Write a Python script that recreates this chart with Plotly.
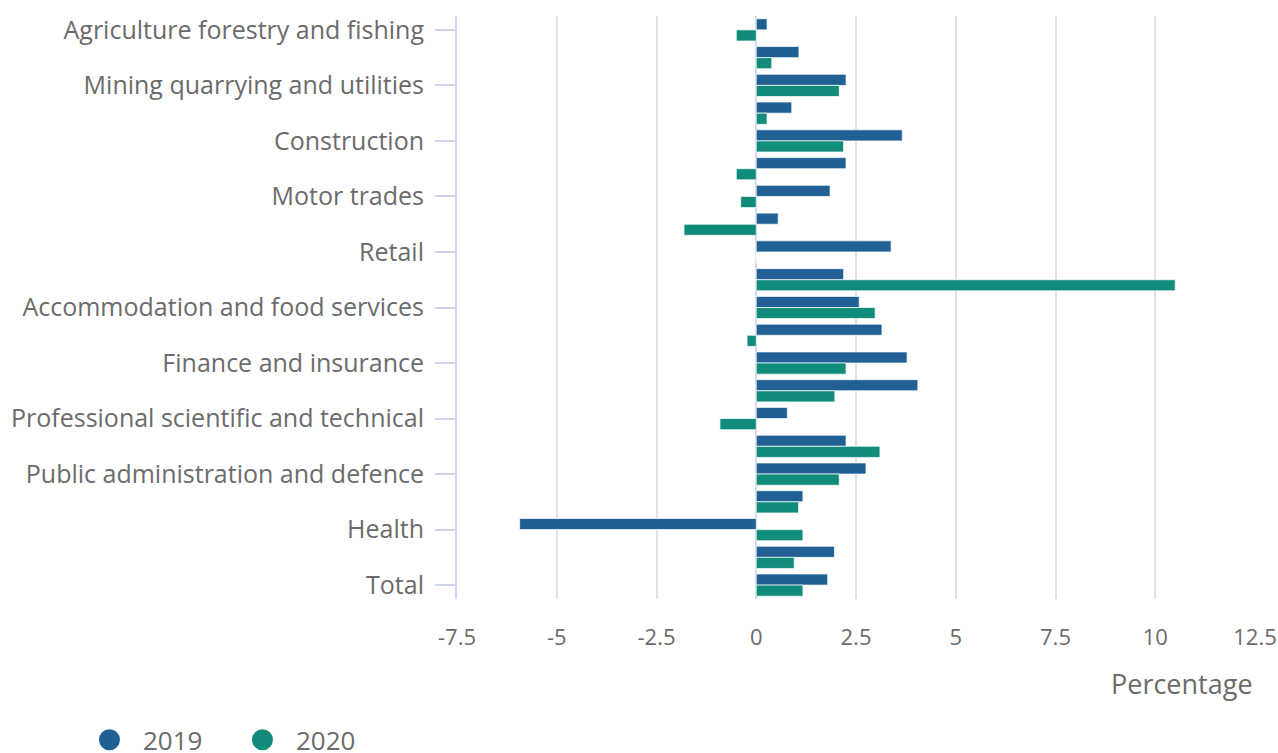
import plotly.graph_objects as go

categories = [
    "Agriculture forestry and fishing",
    "Production",
    "Mining quarrying and utilities",
    "Manufacturing",
    "Construction",
    "Wholesale",
    "Motor trades",
    "Wholesale and retail",
    "Retail",
    "Transport and storage",
    "Accommodation and food services",
    "Information and communication",
    "Finance and insurance",
    "Real estate",
    "Professional scientific and technical",
    "Administrative and support services",
    "Public administration and defence",
    "Education",
    "Health",
    "Arts entertainment and recreation",
    "Total",
]

values_2019 = [0.27, 1.07, 2.25, 0.89, 3.66, 2.25, 1.85, 0.55, 3.38, 2.19, 2.58,
               3.15, 3.78, 4.05, 0.78, 2.25, 2.75, 1.17, -5.93, 1.96, 1.79]
values_2020 = [-0.50, 0.39, 2.08, 0.27, 2.19, -0.50, -0.39, -1.81, 0.0, 10.50, 2.98,
               -0.23, 2.25, 1.97, -0.91, 3.10, 2.08, 1.06, 1.17, 0.95, 1.17]

series_names = ["2019", "2020"]
colors = ["#206095", "#118c7b"]
x_ticks = [-7.5, -5, -2.5, 0, 2.5, 5, 7.5, 10, 12.5]
x_tick_text = ["-7.5", "-5", "-2.5", "0", "2.5", "5", "7.5", "10", "12.5"]

FONT = "Open Sans"
TXT = "#6b6b6b"
NBSP = "\u00a0"

fig = go.Figure()
for name, vals, col in zip(series_names, [values_2019, values_2020], colors):
    fig.add_trace(go.Bar(
        y=categories, x=vals, name=name, orientation="h",
        marker=dict(color=col, line=dict(color="rgba(255,255,255,0.7)", width=1)),
        showlegend=False,
    ))
    fig.add_trace(go.Scatter(
        x=[None], y=[None], mode="markers", name=NBSP * 2 + name,
        marker=dict(color=col, size=16, symbol="circle", line=dict(color=col, width=5)),
        showlegend=True,
    ))

fig.update_layout(
    width=1278, height=753,
    margin=dict(l=457, r=23, t=16, b=154),
    paper_bgcolor="white", plot_bgcolor="white",
    barmode="group", bargap=0.2, bargroupgap=0,
    font=dict(family=FONT, color=TXT, size=22),
    showlegend=True,
    legend=dict(
        orientation="h", xref="container", yref="container",
        x=0.07, xanchor="left", y=0.0175, yanchor="middle",
        font=dict(family=FONT, size=26, color=TXT),
        entrywidth=108, entrywidthmode="pixels",
        bgcolor="rgba(0,0,0,0)",
    ),
)

fig.update_xaxes(
    range=[-7.5, 12.5], tickmode="array", tickvals=x_ticks, ticktext=x_tick_text,
    showgrid=True, gridcolor="#e1e1e1", gridwidth=2,
    zeroline=True, zerolinecolor="#d4dbee", zerolinewidth=2,
    showline=False, ticks="", ticklabelstandoff=23, automargin=False,
    tickfont=dict(family=FONT, size=22, color=TXT),
)
fig.update_yaxes(
    type="category", categoryorder="array", categoryarray=categories,
    autorange="reversed", automargin=False,
    tickmode="array", tickvals=categories[::2],
    showgrid=False, zeroline=False,
    showline=True, linecolor="#cdd6ee", linewidth=2,
    ticks="outside", ticklen=20, tickwidth=2, tickcolor="#cdd6ee",
    ticklabelstandoff=6,
    tickfont=dict(family=FONT, size=25, color=TXT),
)

fig.add_annotation(
    text="Percentage", xref="paper", yref="paper", x=1, y=0,
    xanchor="right", yanchor="middle", yshift=-84, showarrow=False,
    font=dict(family=FONT, size=27, color=TXT),
)

fig.write_html(
    "out.html",
    config={"displayModeBar": False},
    post_script="document.body.style.margin='0';document.body.style.overflow='hidden';",
)
